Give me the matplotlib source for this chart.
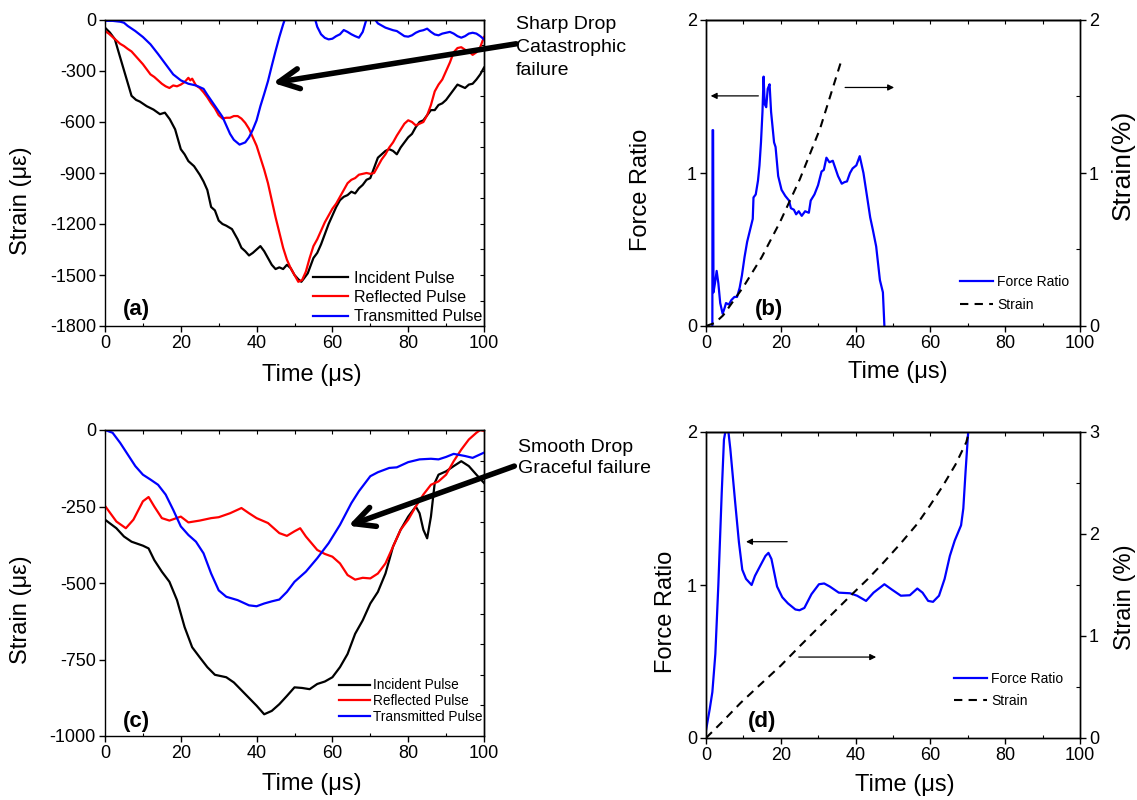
import matplotlib
matplotlib.use('Agg')
import matplotlib.pyplot as plt
from matplotlib.lines import Line2D
from matplotlib.ticker import MultipleLocator

plt.rcParams['font.family'] = ['Liberation Sans', 'DejaVu Sans']
plt.rcParams['axes.linewidth'] = 1.0
plt.rcParams['axes.unicode_minus'] = False

# ---------------- Panel (a) data ----------------
a_inc_t = [0, 1.3, 2.6, 3.5, 4.4, 5.7, 7, 8.2, 9.2, 11, 12.8, 14.5, 15.8, 17.1, 18.5, 20, 21, 22, 23.5, 25,
           26, 27, 28, 29, 30, 31, 32, 33.5, 35, 36, 37, 38, 39, 40, 41, 42, 43, 44, 45, 46, 47, 48, 49, 50,
           51, 51.8, 52.5, 53.5, 55, 56, 57, 58, 59, 60, 61, 62, 63, 64, 65, 66, 67, 68, 69, 70, 71, 72, 73,
           74, 75, 76, 77, 78, 79, 80, 81, 82, 83, 84, 85, 86, 87, 88, 89, 90, 91, 92, 93, 94, 95, 96, 97,
           98, 99, 100]
a_inc_v = [-45, -74, -113, -182, -250, -348, -446, -470, -480, -507, -527, -554, -545, -584, -643, -760, -790,
           -830, -860, -910, -950, -1000, -1100, -1120, -1180, -1200, -1210, -1230, -1290, -1340, -1360, -1385,
           -1370, -1350, -1330, -1360, -1400, -1440, -1465, -1455, -1465, -1440, -1460, -1500, -1525, -1540,
           -1520, -1490, -1400, -1370, -1320, -1260, -1200, -1150, -1100, -1060, -1040, -1030, -1010, -1020,
           -990, -970, -940, -930, -870, -810, -790, -770, -760, -770, -790, -750, -720, -690, -670, -630,
           -600, -590, -560, -530, -530, -500, -490, -470, -440, -410, -380, -390, -400, -380, -375, -350,
           -320, -280]

a_ref_t = [0, 1, 2, 3, 4, 5, 6, 7, 8, 9, 10, 11, 12, 13, 14, 15, 16, 17, 18, 19, 20, 21, 22, 22.5, 23, 24, 25,
           26, 27, 28, 29, 30, 31, 32, 33, 34, 35, 36, 37, 38, 39, 40, 41, 42, 43, 44, 45, 46, 47, 48, 49, 50,
           51, 52, 53, 54, 55, 56, 57, 58, 59, 60, 61, 62, 63, 64, 65, 66, 67, 68, 69, 70, 71, 72, 73, 74, 75,
           76, 77, 78, 79, 80, 81, 82, 83, 84, 85, 86, 87, 88, 89, 90, 91, 92, 93, 94, 95, 96, 97, 98, 99, 100]
a_ref_v = [-65, -80, -100, -120, -140, -153, -170, -185, -210, -235, -260, -290, -320, -335, -355, -375, -390,
           -400, -385, -390, -380, -365, -340, -355, -345, -385, -400, -425, -455, -490, -520, -560, -580, -575,
           -575, -565, -565, -580, -605, -640, -690, -740, -810, -880, -960, -1060, -1160, -1250, -1340, -1410,
           -1460, -1500, -1540, -1530, -1480, -1400, -1330, -1290, -1240, -1190, -1150, -1110, -1080, -1040,
           -1000, -960, -940, -930, -910, -905, -900, -905, -900, -860, -820, -790, -750, -720, -680, -645,
           -610, -590, -600, -620, -610, -600, -560, -500, -420, -380, -350, -300, -250, -190, -165, -160,
           -175, -185, -205, -190, -160, -100]

a_tra_t = [0, 2, 4, 5, 6, 8, 10, 12, 14, 16, 18, 20, 22, 24, 26, 27, 29, 31, 33, 34, 35.5, 37, 38, 39, 40, 41,
           42, 43, 44, 45, 46, 47, 48, 50, 52, 54, 55.5, 56, 57, 58, 59, 60, 61, 62, 63, 64, 65, 66, 67, 68,
           69, 70, 71, 71.5, 72, 74, 76, 77, 78, 79, 80, 81, 82, 83, 84, 85, 86, 87, 88, 89, 90, 91, 92, 93,
           94, 95, 96, 97, 98, 99, 100]
a_tra_v = [-5, -5, -10, -16, -35, -65, -100, -143, -200, -260, -320, -355, -375, -385, -405, -440, -505, -570,
           -670, -705, -733, -720, -690, -645, -590, -507, -435, -360, -270, -183, -100, -26, 40, 150, 180, 80,
           0, -40, -84, -105, -114, -110, -95, -84, -59, -70, -84, -95, -104, -70, 5, 40, 20, -5, -20, -45,
           -60, -65, -80, -95, -98, -90, -75, -65, -60, -51, -70, -85, -90, -80, -75, -70, -80, -95, -104,
           -95, -80, -75, -80, -95, -114]

# ---------------- Panel (b) data ----------------
b_force_t = [1.7, 1.75, 1.9, 2.0, 2.4, 2.85, 3.3, 3.8, 4.45, 5.0, 5.35, 6.1, 6.8, 7.6, 8.3, 9.0, 9.6, 10.3,
             11.0, 12.0, 12.5, 12.7, 13.3, 13.9, 14.3, 14.7, 15.1, 15.4, 15.7, 16.1, 16.5, 17.0, 17.4, 17.8,
             18.2, 18.6, 19.3, 20.2, 21.2, 22.2, 22.7, 23.5, 24.1, 24.8, 25.6, 26.5, 27.5, 28.0, 29.0, 29.96,
             30.9, 31.5, 32.2, 33.0, 33.9, 34.6, 35.3, 36.3, 37.0, 37.7, 38.5, 39.2, 40.2, 41.1, 42.1, 43.1,
             43.9, 44.6, 45.5, 46.5, 47.3, 47.7]
b_force_v = [0, 1.28, 1.28, 0.22, 0.28, 0.36, 0.28, 0.15, 0.08, 0.12, 0.15, 0.14, 0.17, 0.19, 0.19, 0.25,
             0.33, 0.45, 0.55, 0.65, 0.7, 0.84, 0.86, 0.95, 1.05, 1.2, 1.4, 1.63, 1.45, 1.43, 1.55, 1.58, 1.4,
             1.3, 1.2, 1.17, 0.98, 0.89, 0.85, 0.82, 0.77, 0.76, 0.73, 0.75, 0.72, 0.75, 0.74, 0.82, 0.86,
             0.92, 1.01, 1.02, 1.1, 1.07, 1.08, 1.03, 0.98, 0.93, 0.94, 0.945, 1.0, 1.03, 1.05, 1.11, 1.0,
             0.84, 0.71, 0.63, 0.52, 0.3, 0.22, 0]
b_strain_t = [0, 2.4, 4.6, 10, 14.9, 19.8, 25.1, 30.5, 36]
b_strain_v = [0, 0.02, 0.07, 0.256, 0.45, 0.68, 0.96, 1.29, 1.72]

# ---------------- Panel (c) data ----------------
c_inc_t = [0, 3, 5, 7, 10, 11.5, 13, 15, 17, 19, 21, 23, 25, 27, 29, 32, 34, 37, 40, 42, 44, 46, 48, 50, 52,
           54, 56, 58, 60, 62, 64, 66, 68, 70, 72, 74, 76, 78, 80, 82, 83, 84, 85, 86, 87, 88, 90, 92, 94, 96,
           98, 100]
c_inc_v = [-293, -321, -348, -365, -378, -387, -425, -463, -496, -556, -644, -710, -743, -775, -800, -808, -825,
           -863, -901, -929, -918, -896, -869, -841, -843, -847, -830, -822, -808, -775, -732, -666, -622, -567,
           -529, -469, -381, -326, -283, -250, -272, -326, -354, -283, -173, -146, -135, -118, -102, -118, -146,
           -173]
c_ref_t = [0, 3, 5.5, 7.5, 10, 11.5, 13, 15, 17, 20, 22, 25, 28, 30, 33, 36, 38, 40, 43, 46, 48, 50, 51.5, 53,
           56, 58, 60, 62, 64, 66, 68, 70, 72, 74, 76, 78, 80, 82, 84, 86, 88, 90, 92, 94, 96, 98, 99, 100]
c_ref_v = [-248, -299, -321, -293, -233, -219, -250, -288, -296, -283, -302, -296, -288, -285, -272, -255, -272,
           -288, -304, -337, -346, -331, -321, -348, -392, -405, -414, -436, -474, -489, -483, -485, -469, -436,
           -381, -326, -293, -250, -211, -179, -168, -146, -102, -64, -31, -9, 0, -3]
c_tra_t = [0, 2, 4, 6, 8, 10, 12, 14, 16, 18, 20, 22, 24, 26, 28, 30, 32, 35, 38, 40, 42, 44, 46, 48, 50, 53,
           56, 59, 62, 65, 67, 70, 72, 75, 77, 80, 83, 86, 88, 90, 92, 95, 97, 100]
c_tra_v = [0, -9, -42, -80, -118, -146, -162, -179, -211, -261, -315, -343, -365, -403, -469, -524, -545, -556,
           -573, -576, -567, -560, -554, -529, -496, -463, -419, -370, -310, -239, -200, -151, -138, -124, -122,
           -105, -96, -94, -96, -88, -78, -85, -91, -74]

# ---------------- Panel (d) data ----------------
d_force_t = [0, 1, 1.7, 2.5, 3.3, 4.2, 4.8, 5.3, 6.0, 6.5, 7.8, 8.8, 9.7, 10.7, 12.2, 13.1, 14.6, 15.9, 16.7,
             17.5, 19.0, 20.4, 21.9, 23.9, 25.0, 26.3, 28.2, 30.2, 31.6, 33.1, 35.5, 38.5, 40.4, 42.8, 44.8,
             47.7, 49.7, 52.1, 54.5, 56.5, 57.9, 59.4, 60.7, 62.3, 63.8, 65.2, 66.5, 68.2, 68.8, 69.4, 70.1,
             70.6]
d_force_v = [0.05, 0.19, 0.3, 0.55, 1.0, 1.6, 1.95, 2.02, 2.0, 1.89, 1.54, 1.28, 1.10, 1.04, 1.0, 1.06, 1.13,
             1.19, 1.21, 1.17, 0.99, 0.92, 0.88, 0.84, 0.835, 0.85, 0.94, 1.005, 1.01, 0.99, 0.95, 0.946, 0.93,
             0.896, 0.95, 1.005, 0.97, 0.93, 0.933, 0.977, 0.95, 0.896, 0.89, 0.93, 1.04, 1.19, 1.29, 1.39,
             1.5, 1.74, 2.0, 2.2]
d_strain_t = [0, 4.4, 9.25, 14.1, 20, 24.8, 29.7, 34.1, 38.5, 43.3, 47.7, 52.1, 56.5, 59.9, 63.3, 66.7, 69.6,
              70.3]
d_strain_v = [0, 0.16, 0.344, 0.51, 0.71, 0.89, 1.07, 1.23, 1.39, 1.56, 1.73, 1.91, 2.1, 2.28, 2.47, 2.68,
              2.9, 3.0]

pulse_labels = ['Incident Pulse', 'Reflected Pulse', 'Transmitted Pulse']
ratio_labels = ['Force Ratio', 'Strain']

W, H = 1137, 800
fig = plt.figure(figsize=(W / 100, H / 100), dpi=100)


def rect(x0, x1, ytop, ybot):
    return [x0 / W, 1 - ybot / H, (x1 - x0) / W, (ybot - ytop) / H]


TICK = 13
LAB = 17
LW = 1.6
DASH = (0, (4, 3))


def style_main(ax, ymaj, right_minor=None):
    ax.set_xlim(0, 100)
    ax.xaxis.set_major_locator(MultipleLocator(20))
    ax.xaxis.set_minor_locator(MultipleLocator(10))
    ax.yaxis.set_major_locator(MultipleLocator(ymaj))
    ax.tick_params(which='major', direction='out', length=4.5, width=1, labelsize=TICK, pad=2)
    ax.tick_params(which='minor', direction='in', length=2.5, width=0.8)
    ax.tick_params(axis='y', which='minor', left=False)
    top = ax.secondary_xaxis('top')
    top.set_xticks(range(0, 101, 10))
    top.tick_params(direction='in', length=3, width=0.8, labeltop=False)
    if right_minor is not None:
        r = ax.secondary_yaxis('right')
        lo, hi = ax.get_ylim()
        n = int(round((hi - lo) / right_minor))
        r.set_yticks([lo + i * right_minor for i in range(n + 1)])
        r.tick_params(direction='in', length=3, width=0.8, labelright=False)


def big_arrow(ax, head, tail):
    ax.annotate('', xy=head, xytext=tail, xycoords='data', textcoords='data', annotation_clip=False,
                arrowprops=dict(arrowstyle='->', lw=4, color='black', mutation_scale=36,
                                shrinkA=0, shrinkB=0))


def thin_arrow(ax, head, tail):
    ax.annotate('', xy=head, xytext=tail,
                arrowprops=dict(arrowstyle='-|>', lw=0.9, color='black', mutation_scale=9,
                                shrinkA=0, shrinkB=0))


# ---------------- (a) ----------------
ax_a = fig.add_axes(rect(105, 484, 20, 326))
ax_a.plot(a_inc_t, a_inc_v, color='black', lw=LW, label=pulse_labels[0])
ax_a.plot(a_ref_t, a_ref_v, color='#ff0000', lw=LW, label=pulse_labels[1])
ax_a.plot(a_tra_t, a_tra_v, color='#0000ff', lw=LW, label=pulse_labels[2])
ax_a.set_ylim(-1800, 0)
style_main(ax_a, 300, right_minor=150)
ax_a.set_xlabel('Time (\u03bcs)', fontsize=LAB)
ax_a.set_ylabel('Strain (\u03bc\u03b5)', fontsize=LAB)
ax_a.xaxis.set_label_coords(0.546, -0.125)
ax_a.yaxis.set_label_coords(-0.193, 0.41)
ax_a.legend(loc='lower right', bbox_to_anchor=(0.995, 0.005), frameon=False, fontsize=11.5,
            handlelength=2.2, handletextpad=0.35, labelspacing=0.28, borderpad=0, borderaxespad=0)
ax_a.text(8.4, -1700, '(a)', fontsize=16, fontweight='bold', ha='center', va='center')
big_arrow(ax_a, (44.3, -370), (108.5, -140))
fig.text(516 / W, 1 - 16 / H, 'Sharp Drop\nCatastrophic\nfailure', fontsize=14, ha='left', va='top',
         linespacing=1.45)

# ---------------- (b) ----------------
ax_b = fig.add_axes(rect(706, 1080, 20, 326))
ax_b.set_ylim(0, 2)
ax_b.plot(b_force_t, b_force_v, color='#0000ff', lw=LW)
style_main(ax_b, 1)
ax_b.set_xlabel('Time (\u03bcs)', fontsize=LAB)
ax_b.set_ylabel('Force Ratio', fontsize=LAB)
ax_b.xaxis.set_label_coords(0.513, -0.115)
ax_b.yaxis.set_label_coords(-0.144, 0.444)
ax_b2 = ax_b.twinx()
ax_b2.set_ylim(0, 2)
ax_b2.plot(b_strain_t, b_strain_v, color='black', lw=1.5, ls=DASH)
ax_b2.yaxis.set_major_locator(MultipleLocator(1))
ax_b2.yaxis.set_minor_locator(MultipleLocator(0.5))
ax_b2.tick_params(which='major', direction='out', length=4.5, width=1, labelsize=TICK, pad=2)
ax_b2.tick_params(which='minor', direction='in', length=3, width=0.8)
ax_b2.set_ylabel('Strain(%)', fontsize=19)
ax_b2.yaxis.set_label_coords(1.083, 0.526)
ax_b2.legend([Line2D([], [], color='#0000ff', lw=LW), Line2D([], [], color='black', lw=1.5, ls=DASH)],
             ratio_labels, loc='lower right', bbox_to_anchor=(0.972, 0.045), frameon=False, fontsize=10,
             handlelength=2.4, handletextpad=0.3, labelspacing=0.7, borderpad=0, borderaxespad=0)
ax_b.text(16.8, 0.11, '(b)', fontsize=16, fontweight='bold', ha='center', va='center')
thin_arrow(ax_b, (1.25, 1.504), (14.0, 1.504))
thin_arrow(ax_b, (50.3, 1.559), (37.2, 1.559))

# ---------------- (c) ----------------
ax_c = fig.add_axes(rect(105, 484, 430, 736))
ax_c.plot(c_inc_t, c_inc_v, color='black', lw=LW, label=pulse_labels[0])
ax_c.plot(c_ref_t, c_ref_v, color='#ff0000', lw=LW, label=pulse_labels[1])
ax_c.plot(c_tra_t, c_tra_v, color='#0000ff', lw=LW, label=pulse_labels[2])
ax_c.set_ylim(-1000, 0)
style_main(ax_c, 250, right_minor=100)
ax_c.set_xlabel('Time (\u03bcs)', fontsize=LAB)
ax_c.set_ylabel('Strain (\u03bc\u03b5)', fontsize=LAB)
ax_c.xaxis.set_label_coords(0.546, -0.122)
ax_c.yaxis.set_label_coords(-0.193, 0.412)
ax_c.legend(loc='lower right', bbox_to_anchor=(0.995, 0.04), frameon=False, fontsize=9.8,
            handlelength=2.3, handletextpad=0.2, labelspacing=0.12, borderpad=0, borderaxespad=0)
ax_c.text(8.2, -954, '(c)', fontsize=16, fontweight='bold', ha='center', va='center')
big_arrow(ax_c, (64.2, -313), (108.0, -118))
fig.text(518 / W, 1 - 439 / H, 'Smooth Drop\nGraceful failure', fontsize=14, ha='left', va='top',
         linespacing=1.33)

# ---------------- (d) ----------------
ax_d = fig.add_axes(rect(706, 1080, 432, 738))
ax_d.set_ylim(0, 2)
ax_d.plot(d_force_t, d_force_v, color='#0000ff', lw=LW)
style_main(ax_d, 1)
ax_d.set_xlabel('Time (\u03bcs)', fontsize=LAB)
ax_d.set_ylabel('Force Ratio', fontsize=LAB)
ax_d.xaxis.set_label_coords(0.532, -0.118)
ax_d.yaxis.set_label_coords(-0.078, 0.412)
ax_d2 = ax_d.twinx()
ax_d2.set_ylim(0, 3)
ax_d2.plot(d_strain_t, d_strain_v, color='black', lw=1.5, ls=DASH)
ax_d2.yaxis.set_major_locator(MultipleLocator(1))
ax_d2.yaxis.set_minor_locator(MultipleLocator(0.5))
ax_d2.tick_params(which='major', direction='out', length=4.5, width=1, labelsize=TICK, pad=2)
ax_d2.tick_params(which='minor', direction='in', length=3, width=0.8)
ax_d2.set_ylabel('Strain (%)', fontsize=17)
ax_d2.yaxis.set_label_coords(1.092, 0.46)
ax_d2.legend([Line2D([], [], color='#0000ff', lw=LW), Line2D([], [], color='black', lw=1.5, ls=DASH)],
             ratio_labels, loc='lower right', bbox_to_anchor=(0.955, 0.098), frameon=False, fontsize=10,
             handlelength=2.4, handletextpad=0.3, labelspacing=0.6, borderpad=0, borderaxespad=0)
ax_d.text(15.0, 0.11, '(d)', fontsize=16, fontweight='bold', ha='center', va='center')
thin_arrow(ax_d, (10.7, 1.283), (21.7, 1.283))
thin_arrow(ax_d, (45.5, 0.529), (24.8, 0.529))

fig.savefig('out.png', dpi=100)
